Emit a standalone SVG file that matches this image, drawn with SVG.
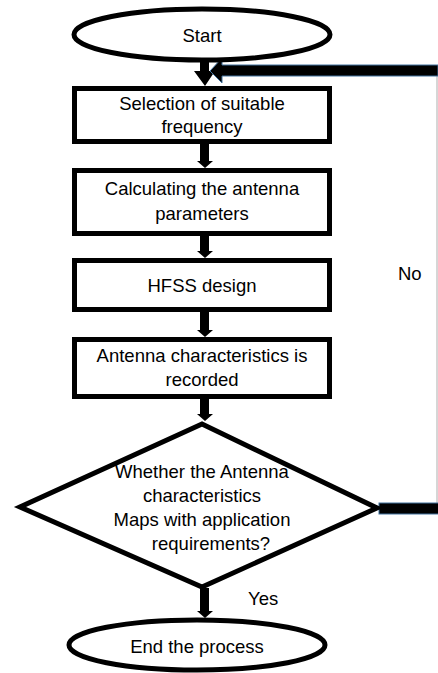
<svg xmlns="http://www.w3.org/2000/svg" width="438" height="673" viewBox="0 0 438 673">
<style>
.box{fill:#fff;stroke:#000;stroke-width:5}
.t{font-family:"Liberation Sans",Arial,sans-serif;font-size:18.5px;fill:#000;text-anchor:middle}
.l{font-family:"Liberation Sans",Arial,sans-serif;font-size:18.5px;fill:#000}
.ar{fill:#000}
.fb{fill:#000;stroke:#41719c;stroke-width:1}
</style>
<rect width="438" height="673" fill="#fff"/>
<g id="connectors">
  <path class="ar" d="M200,62 H209 V71 H215 L205,86 L194,71 H200 Z"/>
  <path class="ar" d="M200,144 H209 V161 H213 L205,168 L197,161 H200 Z"/>
  <path class="ar" d="M200,236 H209 V251 H213 L205,258 L197,251 H200 Z"/>
  <path class="ar" d="M200,312 H209 V330 H213 L205,337 L197,330 H200 Z"/>
  <path class="ar" d="M200,399 H209 V414 H213 L205,421 L197,414 H200 Z"/>
  <path class="ar" d="M200,588 H209 V611 H213 L205,618 L197,611 H200 Z"/>
  <line x1="437" y1="70" x2="437" y2="508" stroke="#c8c8c8" stroke-width="1.5"/>
  <path class="fb" d="M438,65 H222 V58 L210,71 L222,83 V76 H438 Z"/>
  <rect class="fb" x="379" y="503" width="60" height="11"/>
</g>
<g id="start">
  <ellipse class="box" cx="202" cy="34.5" rx="128" ry="25.5" stroke-width="4"/>
  <text class="t" x="202" y="42">Start</text>
</g>
<g id="selection">
  <rect class="box" x="74.5" y="88.5" width="255" height="53"/>
  <text class="t" x="202" y="110">Selection of suitable</text>
  <text class="t" x="202" y="133">frequency</text>
</g>
<g id="calculating">
  <rect class="box" x="74.5" y="170.5" width="255" height="63"/>
  <text class="t" x="202" y="195">Calculating the antenna</text>
  <text class="t" x="202" y="220">parameters</text>
</g>
<g id="hfss">
  <rect class="box" x="74.5" y="260.5" width="255" height="49"/>
  <text class="t" x="202" y="292">HFSS design</text>
</g>
<g id="recorded">
  <rect class="box" x="74.5" y="339.5" width="255" height="57"/>
  <text class="t" x="202" y="362">Antenna characteristics is</text>
  <text class="t" x="202" y="386">recorded</text>
</g>
<g id="decision">
  <polygon class="box" points="202,424 20,507 202,587 377,508"/>
  <text class="t" x="202" y="478">Whether the Antenna</text>
  <text class="t" x="202" y="502">characteristics</text>
  <text class="t" x="202" y="526">Maps with application</text>
  <text class="t" x="211" y="550">requirements?</text>
</g>
<g id="end">
  <ellipse class="box" cx="197" cy="645" rx="128" ry="25" stroke-width="5"/>
  <text class="t" x="197" y="653">End the process</text>
</g>
<g id="labels">
  <text class="l" x="398" y="280">No</text>
  <text class="l" x="248" y="605">Yes</text>
</g>
</svg>
